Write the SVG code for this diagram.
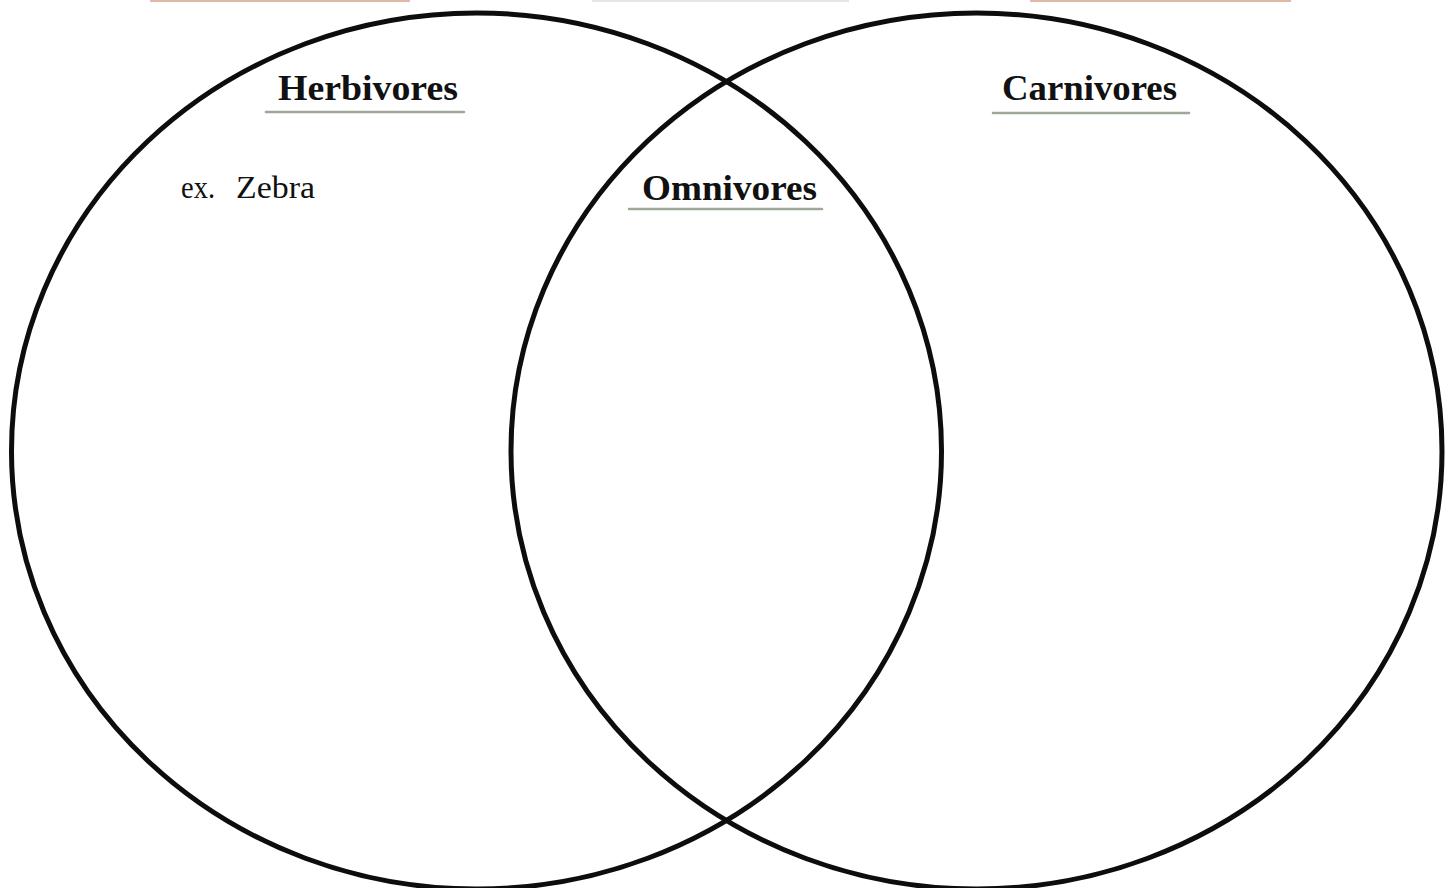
<svg xmlns="http://www.w3.org/2000/svg" width="1455" height="888" viewBox="0 0 1455 888">
<style>
.ring{fill:none;stroke:#0d0d0d;stroke-width:5}
.title{font-family:"Liberation Serif","DejaVu Serif",serif;font-weight:bold;font-size:36px;fill:#111}
.ex{font-family:"Liberation Serif","DejaVu Serif",serif;font-size:31px;fill:#111}
.ul{stroke:#8c9a86;stroke-width:2.5;stroke-linecap:round;opacity:0.85}
.edge{stroke-width:2}
</style>
<rect width="1455" height="888" fill="#fff"/>
<g id="top-edge">
<line class="edge" x1="150" y1="1" x2="410" y2="1" stroke="#e2b9a8"/>
<line class="edge" x1="592" y1="1" x2="849" y2="1" stroke="#e6e6e6"/>
<line class="edge" x1="1030" y1="1" x2="1291" y2="1" stroke="#e2b9a8"/>
</g>
<g id="herbivores">
<ellipse class="ring" cx="476.5" cy="451" rx="465" ry="438"/>
<text class="title" x="278" y="100" textLength="180" lengthAdjust="spacingAndGlyphs">Herbivores</text>
<line class="ul" x1="266" y1="112" x2="464" y2="112"/>
<text class="ex" x="181" y="198" textLength="34" lengthAdjust="spacingAndGlyphs">ex.</text>
<text class="ex" x="236" y="198" textLength="79" lengthAdjust="spacingAndGlyphs">Zebra</text>
</g>
<g id="carnivores">
<ellipse class="ring" cx="976.5" cy="451" rx="465.5" ry="438"/>
<text class="title" x="1002" y="100" textLength="175" lengthAdjust="spacingAndGlyphs">Carnivores</text>
<line class="ul" x1="993" y1="113" x2="1189" y2="113"/>
</g>
<g id="omnivores">
<text class="title" x="642" y="200" textLength="175" lengthAdjust="spacingAndGlyphs">Omnivores</text>
<line class="ul" x1="629" y1="209" x2="822" y2="209"/>
</g>
<g id="connectors"/>
</svg>
